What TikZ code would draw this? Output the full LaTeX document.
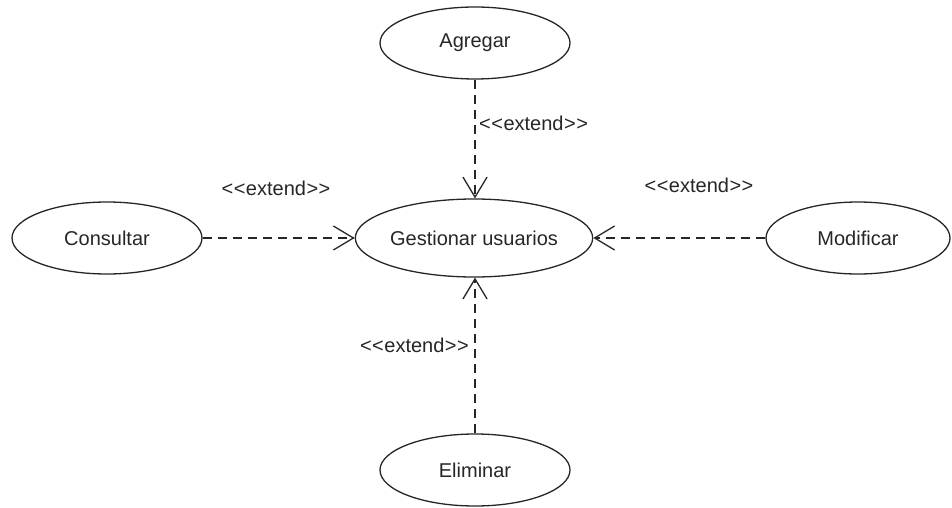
\documentclass[tikz,border=0pt]{standalone}
\usepackage{fontspec}
\setmainfont{Liberation Sans}
\usetikzlibrary{shapes.geometric,arrows.meta}
% stereotype text, with kerns so that << and >> stay as separate characters
\newcommand{\extendtxt}{<\kern0.5pt<\kern0.5pt extend\kern0.5pt>\kern0.5pt>}
\begin{document}
\begin{tikzpicture}[x=1pt,y=-1pt,
  usecase/.style={draw=black!85, line width=1.3pt, ellipse, inner sep=0pt,
    font=\fontsize{20}{24}\selectfont, text=black!85},
  extendline/.style={draw=black!85, line width=1.3pt, dash pattern=on 9pt off 6pt,
    -{Straight Barb[length=20pt,width=24pt,line width=1.3pt]}},
  stereo/.style={font=\fontsize{20}{24}\selectfont, text=black!85, inner sep=0pt}]
  \useasboundingbox (0,0) rectangle (952,508);

  % use cases
  \node[usecase, minimum width=190pt, minimum height=72pt] (ag) at (475,43) {Agregar};
  \node[usecase, minimum width=235pt, minimum height=78pt] (gu) at (474,238) {Gestionar usuarios};
  \node[usecase, minimum width=190pt, minimum height=72pt] (co) at (107,238) {Consultar};
  \node[usecase, minimum width=184pt, minimum height=72pt] (mo) at (858,238) {Modificar};
  \node[usecase, minimum width=190pt, minimum height=72pt] (el) at (475,470) {Eliminar};

  % extend relations
  \draw[extendline] (ag.south) -- (ag.south |- gu.north);
  \draw[extendline] (el.north) -- (el.north |- gu.south);
  \draw[extendline] (co.east) -- (gu.west);
  \draw[extendline] (mo.west) -- (gu.east);

  % stereotype labels
  \node[stereo, anchor=west] (lag) at (479,123) {\extendtxt};
  \node[stereo, anchor=east] (lel) at (469,345) {\extendtxt};
  \node[stereo] (lco) at (276,188) {\extendtxt};
  \node[stereo] (lmo) at (699,185) {\extendtxt};
\end{tikzpicture}
\end{document}
